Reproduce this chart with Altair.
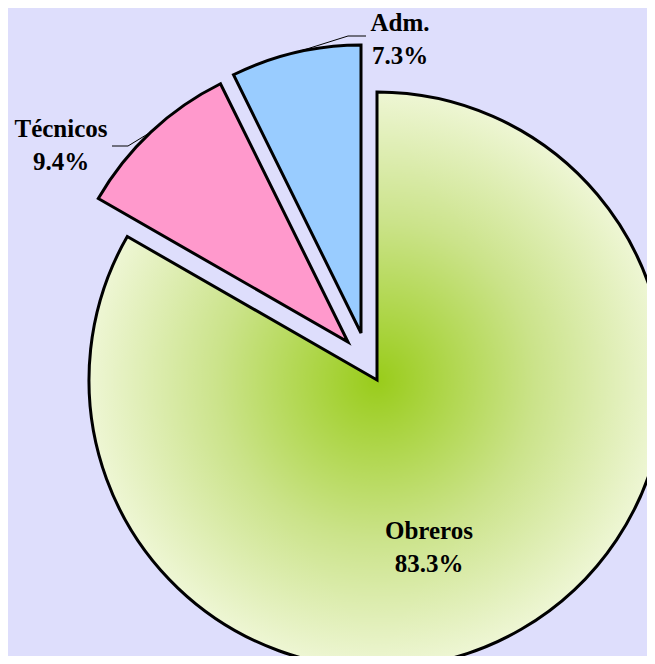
import math
import altair as alt
import pandas as pd

# ---- data ----
categories = ["Obreros", "Técnicos", "Adm."]
values = [83.3, 9.4, 7.3]

# ---- layout / style (view coordinates) ----
W, H = 639, 648
CX, CY, R = 369, 372, 288
EXPLODE = {"Obreros": (0, 0), "Técnicos": (-29, -38), "Adm.": (-16, -47)}
GREEN = {
    "gradient": "radial",
    "x1": 0.5, "y1": 0.5, "r1": 0,
    "x2": 0.5, "y2": 0.5, "r2": 0.5,
    "stops": [
        {"offset": 0, "color": "#99cc1a"},
        {"offset": 0.55, "color": "#cbe38a"},
        {"offset": 1, "color": "#eef6d4"},
    ],
}
SLICE_FILL = {"Obreros": GREEN, "Técnicos": "#ff99cc", "Adm.": "#99ccff"}
LABEL_POS = {"Obreros": (421, 531), "Técnicos": (53, 129), "Adm.": (392, 23)}
LEADER_TAIL = {"Técnicos": [(120, 138), (104, 138)], "Adm.": [(340, 28), (358, 28)]}
BG = "#dedefc"

df = pd.DataFrame({"cat": categories, "value": values, "order": list(range(len(categories)))})

base = (
    alt.Chart(df)
    .transform_joinaggregate(total="sum(value)")
    .transform_window(cum="sum(value)", sort=[alt.SortField("order")], frame=[None, 0])
    .transform_calculate(
        t0="2*PI*(datum.cum - datum.value)/datum.total",
        t1="2*PI*datum.cum/datum.total",
        label="datum.cat + '\\n' + format(datum.value, '.1f') + '%'",
    )
)

# leader lines: start on the slice arc at its bisector
total = sum(values)
cum = 0.0
rows = []
for cat, v in zip(categories, values):
    mid = 2 * math.pi * (cum + v / 2) / total
    cum += v
    if cat in LEADER_TAIL:
        dx, dy = EXPLODE[cat]
        sx = CX + dx + R * math.sin(mid)
        sy = CY + dy - R * math.cos(mid)
        pts = [(sx, sy)] + LEADER_TAIL[cat]
        for i, (px, py) in enumerate(pts):
            rows.append({"cat": cat, "i": i, "px": px, "py": py})
lead_df = pd.DataFrame(rows)

leaders = alt.Chart(lead_df).mark_line(color="black", strokeWidth=1).encode(
    x=alt.X("px:Q", scale=None, axis=None),
    y=alt.Y("py:Q", scale=None, axis=None),
    detail="cat:N",
    order="i:Q",
)

layers = [leaders]
for cat in categories:
    dx, dy = EXPLODE[cat]
    layers.append(
        base.transform_filter(alt.datum.cat == cat)
        .mark_arc(radius=R, fill=SLICE_FILL[cat], stroke="black", strokeWidth=3, strokeJoin="miter")
        .encode(
            theta=alt.Theta("t0:Q", scale=None),
            theta2=alt.Theta2("t1:Q"),
            x=alt.value(CX + dx),
            y=alt.value(CY + dy),
        )
    )
for cat in categories:
    lx, ly = LABEL_POS[cat]
    layers.append(
        base.transform_filter(alt.datum.cat == cat)
        .mark_text(
            font="Liberation Serif", fontSize=25, fontWeight="bold", lineHeight=33,
            lineBreak="\n", align="center", baseline="alphabetic", color="black",
        )
        .encode(text="label:N", x=alt.value(lx), y=alt.value(ly))
    )

chart = (
    alt.layer(*layers)
    .properties(width=W, height=H, background=BG, padding=0, autosize="none")
    .configure_view(stroke=None)
)

chart.save("out.html", embed_options={"renderer": "svg", "actions": False})
